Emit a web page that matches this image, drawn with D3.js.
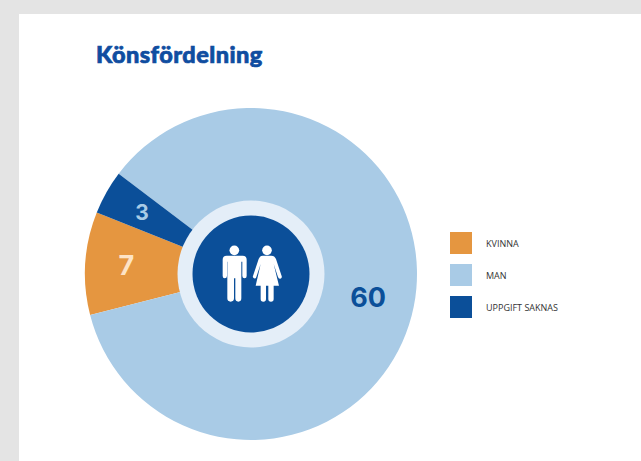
<!DOCTYPE html>
<html>
<head>
<meta charset="utf-8">
<script src="https://cdn.jsdelivr.net/npm/d3@7"></script>
<style>
  html, body { margin: 0; padding: 0; background: #e4e4e4; overflow: hidden; }
  svg { display: block; }
</style>
</head>
<body>
<div id="chart"></div>
<script>
  // data
  var categories = ["KVINNA", "MAN", "UPPGIFT SAKNAS"];
  var values = [7, 60, 3];
  var colors = ["#e59640", "#a9cbe6", "#0b4f99"];
  var labelColors = ["#fde3c6", "#0b4f99", "#a9cbe6"];
  var title = "Könsfördelning";

  var width = 641, height = 461;
  var cx = 251, cy = 274;
  var outerR = 166;

  var svg = d3.select("#chart").append("svg")
      .attr("width", width)
      .attr("height", height);

  // white page
  svg.append("rect")
      .attr("x", 19)
      .attr("y", 14)
      .attr("width", width - 19)
      .attr("height", height - 14)
      .attr("fill", "#fff");

  svg.append("text")
      .attr("x", 96)
      .attr("y", 63)
      .attr("font-family", "Lato")
      .attr("font-weight", 900)
      .attr("font-size", 23.5)
      .attr("letter-spacing", "0.45")
      .attr("stroke", "#0f4da0")
      .attr("stroke-width", 0.7)
      .attr("fill", "#0f4da0")
      .text(title);

  var pie = d3.pie()
      .sort(null)
      .startAngle(291.7 * Math.PI / 180)
      .endAngle((291.7 - 360) * Math.PI / 180);

  var arc = d3.arc().innerRadius(0).outerRadius(outerR);
  // the two small slices have their numbers further out than the big one
  var labelArc = d3.arc()
      .innerRadius(function(d) { return d.value < 10 ? 84 : 73; })
      .outerRadius(outerR);

  var g = svg.append("g")
      .attr("transform", "translate(" + cx + "," + cy + ")");

  var slices = pie(values);

  g.selectAll(".slice")
      .data(slices)
      .enter()
      .append("path")
      .attr("class", "slice")
      .attr("d", arc)
      .attr("fill", function(d, i) { return colors[i]; });

  // centre ring + disc
  g.append("circle").attr("r", 73.5).attr("fill", "#e4eef8");
  g.append("circle").attr("r", 58.5).attr("fill", "#0b4f99");

  // value labels
  g.selectAll(".val")
      .data(slices)
      .enter()
      .append("text")
      .attr("class", "val")
      .attr("transform", function(d) {
        var c = labelArc.centroid(d);
        return "translate(" + c[0] + "," + c[1] + ")";
      })
      .attr("text-anchor", "middle")
      .attr("dy", "0.34em")
      .attr("font-family", "Inter")
      .attr("font-weight", 700)
      .attr("font-size", function(d, i) { return i == 2 ? 21 : 27; })
      .attr("fill", function(d, i) { return labelColors[i]; })
      .text(function(d) { return d.data; });

  // man and woman icon
  var icon = svg.append("g")
      .attr("transform", "translate(170,190) scale(0.3333)")
      .attr("fill", "#fff");
  icon.append("circle").attr("cx", 193).attr("cy", 181).attr("r", 14.5);
  icon.append("circle").attr("cx", 291).attr("cy", 181).attr("r", 14.5);
  icon.append("path").attr("d", "M170 197H218Q230 197 230 209V258Q230 265 224 265Q217 265 217 258V215H214V325Q214 335 205 335Q196 335 196 325V265H192V325Q192 335 182 335Q172 335 172 325V215H171V258Q171 265 164 265Q158 265 158 258V209Q158 197 170 197Z");
  icon.append("path").attr("d", "M278 197H304Q314 197 318 207L335 258Q337 264 331 266Q326 267 324 261L311 222L327 287H311V327Q311 335 303 335Q295 335 295 327V287H288V327Q288 335 280 335Q272 335 272 327V287H257L272 222L259 261Q257 267 252 265Q247 263 249 258L266 207Q270 197 278 197Z");

  // legend
  var legendY = d3.scalePoint()
      .domain(categories)
      .range([232, 296]);

  var legend = svg.append("g")
      .selectAll(".legend")
      .data(categories)
      .enter()
      .append("g")
      .attr("class", "legend")
      .attr("transform", function(d) { return "translate(450," + legendY(d) + ")"; });

  legend.append("rect")
      .attr("width", 22)
      .attr("height", 22)
      .attr("fill", function(d, i) { return colors[i]; });

  legend.append("text")
      .attr("x", 36)
      .attr("y", 12)
      .attr("dy", "0.38em")
      .attr("font-family", "Open Sans")
      .attr("font-size", 9)
      .attr("fill", "#333")
      .text(function(d) { return d; });
</script>
</body>
</html>
